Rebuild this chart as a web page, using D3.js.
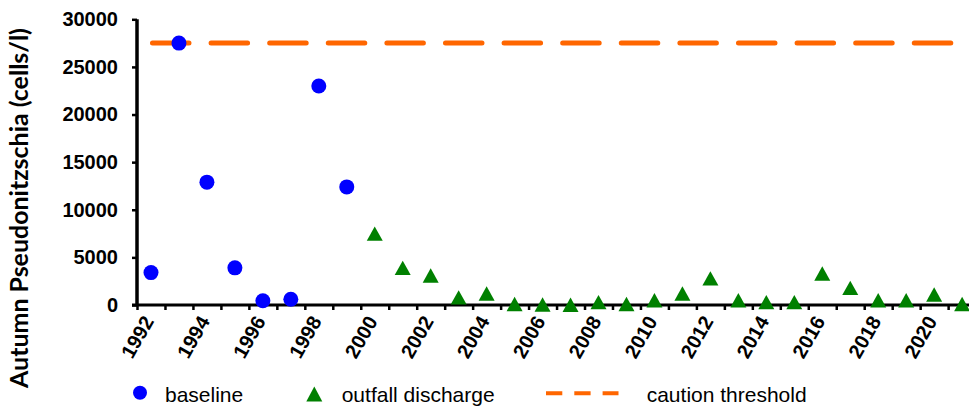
<!DOCTYPE html>
<html>
<head>
<meta charset="utf-8">
<script src="https://cdn.jsdelivr.net/npm/d3@7"></script>
<style>
  html, body { margin: 0; padding: 0; background: #fff; }
  svg { display: block; }
</style>
</head>
<body>
<svg id="chart" width="969" height="409"></svg>
<script>
// ---- data ----
const years = d3.range(1992, 2022);
const baselineYears = [1992, 1993, 1994, 1995, 1996, 1997, 1998, 1999];
const baselineValues = [3400, 27500, 12900, 3900, 450, 600, 23000, 12400];
const outfallYears = [2000, 2001, 2002, 2003, 2004, 2005, 2006, 2007, 2008, 2009, 2010,
                      2011, 2012, 2013, 2014, 2015, 2016, 2017, 2018, 2019, 2020, 2021];
const outfallValues = [7500, 3900, 3100, 800, 1200, 100, 50, 30, 300, 100, 500,
                       1200, 2800, 500, 300, 300, 3300, 1800, 500, 500, 1100, 100];
const cautionThreshold = 27500;
const yTicks = [0, 5000, 10000, 15000, 20000, 25000, 30000];
const xLabelYears = years.filter(y => y % 2 === 0);
const yTitle = "Autumn Pseudonitzschia (cells/l)";
const legendLabels = ["baseline", "outfall discharge", "caution threshold"];

// ---- layout ----
const svg = d3.select("#chart");
const x0 = 137, bw = 27.97;
const x = d3.scaleBand().domain(years).range([x0, x0 + bw * years.length]).padding(0);
const xb = d3.scaleLinear().domain([1992, 2022]).range([x0, x0 + bw * 30]);
const y = d3.scaleLinear().domain([0, 30000]).range([305, 19.3]);
const cx = yr => x(yr) + x.bandwidth() / 2;

// threshold line
svg.append("line")
  .attr("x1", cx(1992) + 1.5).attr("x2", 1000)
  .attr("y1", y(cautionThreshold)).attr("y2", y(cautionThreshold))
  .attr("stroke", "#ff6600").attr("stroke-width", 5)
  .attr("stroke-linecap", "round")
  .attr("stroke-dasharray", "36.5 22.1");

// y axis
const yAxis = svg.append("g").attr("transform", `translate(${x0},0)`)
  .call(d3.axisLeft(y).tickValues(yTicks).tickSize(5).tickPadding(14).tickFormat(d3.format("d")));
yAxis.select(".domain").attr("stroke", "#000").attr("stroke-width", 3.5)
  .attr("d", `M0,${y(30000)}V${y(0)}`);
yAxis.selectAll(".tick line").attr("stroke", "#000").attr("stroke-width", 2.5);
yAxis.selectAll(".tick text")
  .attr("font-family", "Liberation Sans, Arial, sans-serif")
  .attr("font-weight", "bold").attr("font-size", 20).attr("fill", "#000");

// x axis ticks (category boundaries)
const xTickAxis = svg.append("g").attr("transform", `translate(0,${y(0)})`)
  .call(d3.axisBottom(xb).tickValues(d3.range(1992, 2023)).tickSize(5).tickFormat(""));
xTickAxis.select(".domain").attr("stroke", "#000").attr("stroke-width", 3)
  .attr("d", `M${x0 - 5},0H1000`);
xTickAxis.selectAll(".tick line").attr("stroke", "#000").attr("stroke-width", 2.5);

// x labels
const xLab = svg.append("g").attr("transform", `translate(0,${y(0)})`)
  .call(d3.axisBottom(x).tickValues(xLabelYears).tickSize(0).tickFormat(d3.format("d")));
xLab.select(".domain").remove();
xLab.selectAll(".tick text")
  .attr("font-family", "Liberation Sans, Arial, sans-serif")
  .attr("font-weight", "bold").attr("font-size", 20).attr("fill", "#000")
  .attr("text-anchor", "end")
  .attr("dy", null).attr("y", null)
  .attr("transform", "translate(-1,13.5) rotate(-60)")
  .attr("dominant-baseline", "middle");

// baseline circles
svg.append("g").selectAll("circle").data(baselineYears)
  .join("circle")
  .attr("cx", d => cx(d))
  .attr("cy", (d, i) => y(baselineValues[i]))
  .attr("r", 7.5).attr("fill", "#0000ff");

// outfall triangles
const tri = "M0,-7.2L8,7.2L-8,7.2Z";
svg.append("g").selectAll("path").data(outfallYears)
  .join("path")
  .attr("d", tri)
  .attr("transform", (d, i) => `translate(${cx(d)},${y(outfallValues[i])})`)
  .attr("fill", "#008000");

// y title
const yt = svg.append("text")
  .attr("transform", "translate(28,208) rotate(-90)")
  .attr("text-anchor", "middle")
  .attr("font-family", "Lato, 'Open Sans', sans-serif")
  .attr("font-weight", "bold").attr("font-size", 21).attr("fill", "#000")
  .text(yTitle);
const tl = yt.node().getComputedTextLength();
yt.attr("font-size", 21 * 360 / tl);

// legend
const lg = svg.append("g").attr("font-family", "Liberation Sans, Arial, sans-serif")
  .attr("font-size", 21).attr("fill", "#000");
lg.append("circle").attr("cx", 140).attr("cy", 392.7).attr("r", 7).attr("fill", "#0000ff");
lg.append("text").attr("x", 165).attr("y", 401.5).text(legendLabels[0]);
lg.append("path").attr("d", "M0,-7.5L8,7.5L-8,7.5Z")
  .attr("transform", "translate(314.3,394)").attr("fill", "#008000");
lg.append("text").attr("x", 341.7).attr("y", 401.5).text(legendLabels[1]);
lg.append("line").attr("x1", 546).attr("x2", 618.5).attr("y1", 393.3).attr("y2", 393.3)
  .attr("stroke", "#ff6600").attr("stroke-width", 4).attr("stroke-dasharray", "16.3 12");
lg.append("text").attr("x", 646.7).attr("y", 401.5).text(legendLabels[2]);
</script>
</body>
</html>
